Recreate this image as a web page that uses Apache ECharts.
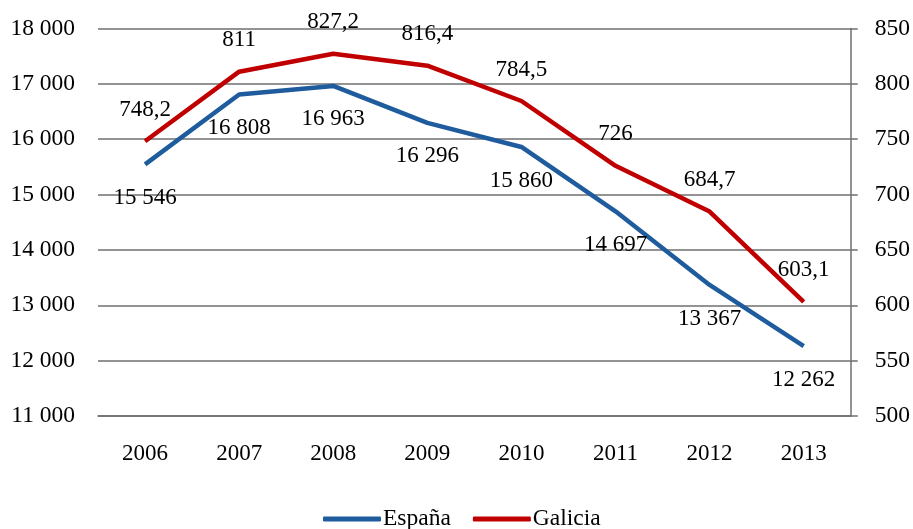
<!DOCTYPE html>
<html>
<head>
<meta charset="utf-8">
<script src="https://cdn.jsdelivr.net/npm/echarts@6/dist/echarts.min.js"></script>
<style>html,body{margin:0;padding:0;background:#fff}#c{width:913px;height:529px}</style>
</head>
<body>
<div id="c"></div>
<script>
const years = ['2006','2007','2008','2009','2010','2011','2012','2013'];
const espana = [15546, 16808, 16963, 16296, 15860, 14697, 13367, 12262];
const galicia = [748.2, 811, 827.2, 816.4, 784.5, 726, 684.7, 603.1];
const seriesNames = ['España', 'Galicia'];

const FONT = "'Liberation Serif', 'Times New Roman', serif";
function fmt(v) {
  const parts = String(v).split('.');
  const intPart = parts[0].replace(/\B(?=(\d{3})+(?!\d))/g, ' ');
  return parts.length > 1 ? intPart + ',' + parts[1] : intPart;
}
const chart = echarts.init(document.getElementById('c'), null, {renderer: 'canvas'});
chart.setOption({
  animation: false,
  backgroundColor: '#fff',
  textStyle: {fontFamily: FONT},
  grid: {left: 98, right: 61, top: 28.5, bottom: 113, containLabel: false},
  legend: {
    data: seriesNames,
    left: 318, top: 502,
    itemGap: 22, itemWidth: 58, itemHeight: 5,
    icon: 'roundRect',
    textStyle: {fontFamily: FONT, fontSize: 23.5, color: '#000', padding: [0,0,0,-3]}
  },
  xAxis: {
    type: 'category', data: years, boundaryGap: true,
    axisLine: {show: true, lineStyle: {color: '#6f6f6f', width: 1.5}},
    axisTick: {show: false},
    axisLabel: {color: '#000', fontSize: 23, fontFamily: FONT, margin: 26}
  },
  yAxis: [{
    type: 'value', min: 11000, max: 18000, interval: 1000,
    axisLine: {show: false}, axisTick: {show: false},
    splitLine: {show: true, lineStyle: {color: '#6f6f6f', width: 1.5}},
    axisLabel: {color: '#000', fontSize: 23.5, fontFamily: FONT, margin: 23, formatter: v => fmt(v)}
  }, {
    type: 'value', min: 500, max: 850, interval: 50, position: 'right',
    axisLine: {show: true, lineStyle: {color: '#6f6f6f', width: 1.5}},
    axisTick: {show: true, inside: false, length: 7, lineStyle: {color: '#6f6f6f', width: 1.5}},
    splitLine: {show: false},
    axisLabel: {color: '#000', fontSize: 23.5, fontFamily: FONT, margin: 24}
  }],
  series: [{
    name: seriesNames[0], type: 'line', data: espana, yAxisIndex: 0,
    color: '#1F5C9E',
    symbol: 'circle', symbolSize: 0, showSymbol: true,
    lineStyle: {width: 4.5, color: '#1F5C9E'},
    label: {show: true, position: 'bottom', distance: 22, color: '#000', fontSize: 23, fontFamily: FONT, formatter: p => fmt(p.value)},
    z: 2
  }, {
    name: seriesNames[1], type: 'line', data: galicia, yAxisIndex: 1,
    color: '#C00000',
    symbol: 'circle', symbolSize: 0, showSymbol: true,
    lineStyle: {width: 4.5, color: '#C00000'},
    label: {show: true, position: 'top', distance: 20, color: '#000', fontSize: 23, fontFamily: FONT, formatter: p => fmt(p.value)},
    z: 3
  }]
});
</script>
</body>
</html>
